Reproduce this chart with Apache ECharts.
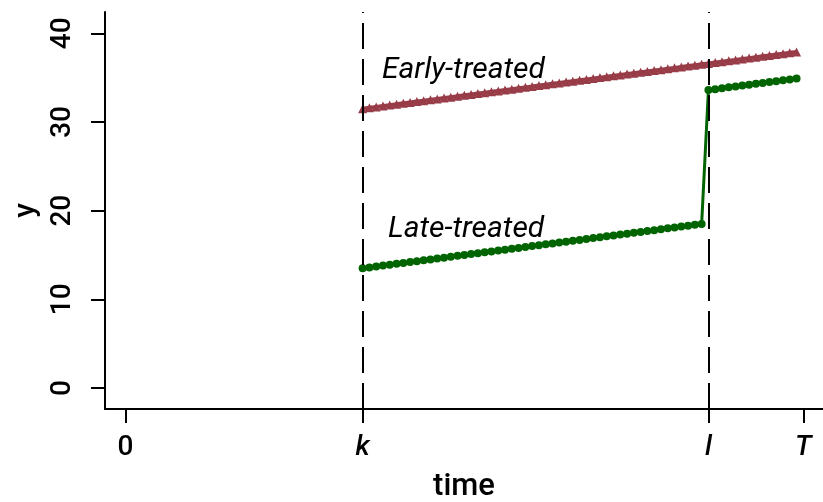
<!DOCTYPE html>
<html><head><meta charset="utf-8"></head>
<body style="margin:0;background:#fff">
<div id="c" style="width:823px;height:502px"></div>
<script src="https://cdn.jsdelivr.net/npm/echarts@6/dist/echarts.min.js"></script>
<script>
// ---- data ----
const timeEarly = [35,36,37,38,39,40,41,42,43,44,45,46,47,48,49,50,51,52,53,54,55,56,57,58,59,60,61,62,63,64,65,66,67,68,69,70,71,72,73,74,75,76,77,78,79,80,81,82,83,84,85,86,87,88,89,90,91,92,93,94,95,96,97,98,99];
const yEarly = [31.5,31.6,31.7,31.8,31.9,32.0,32.1,32.2,32.3,32.4,32.5,32.6,32.7,32.8,32.9,33.0,33.1,33.2,33.3,33.4,33.5,33.6,33.7,33.8,33.9,34.0,34.1,34.2,34.3,34.4,34.5,34.6,34.7,34.8,34.9,35.0,35.1,35.2,35.3,35.4,35.5,35.6,35.7,35.8,35.9,36.0,36.1,36.2,36.3,36.4,36.5,36.6,36.7,36.8,36.9,37.0,37.1,37.2,37.3,37.4,37.5,37.6,37.7,37.8,37.9];
const timeLate = [35,36,37,38,39,40,41,42,43,44,45,46,47,48,49,50,51,52,53,54,55,56,57,58,59,60,61,62,63,64,65,66,67,68,69,70,71,72,73,74,75,76,77,78,79,80,81,82,83,84,85,86,87,88,89,90,91,92,93,94,95,96,97,98,99];
const yLate = [13.5,13.6,13.7,13.8,13.9,14.0,14.1,14.2,14.3,14.4,14.5,14.6,14.7,14.8,14.9,15.0,15.1,15.2,15.3,15.4,15.5,15.6,15.7,15.8,15.9,16.0,16.1,16.2,16.3,16.4,16.5,16.6,16.7,16.8,16.9,17.0,17.1,17.2,17.3,17.4,17.5,17.6,17.7,17.8,17.9,18.0,18.1,18.2,18.3,18.4,18.5,33.6,33.7,33.8,33.9,34.0,34.1,34.2,34.3,34.4,34.5,34.6,34.7,34.8,34.9];
const xTickValues = [0, 35, 86, 100];
const xTickLabels = ['0', 'k', 'l', 'T'];
const yTickValues = [0, 10, 20, 30, 40];
const seriesNames = ['Early-treated', 'Late-treated'];
const treatTimes = [35, 86];

const FONT = "Roboto, 'DejaVu Sans', sans-serif";
const FS = 28;
const chart = echarts.init(document.getElementById('c'));
chart.setOption({
  animation: false,
  backgroundColor: '#fff',
  grid: { left: 105, right: 0, top: 12, bottom: 93, containLabel: false, outerBoundsMode: 'none' },
  xAxis: {
    type: 'value', min: -3, max: 102.9,
    name: 'time', nameLocation: 'middle', nameGap: 63,
    nameTextStyle: { fontFamily: FONT, fontSize: 31, fontWeight: 500, color: '#000' },
    axisLine: { show: true, onZero: false, lineStyle: { color: '#000', width: 2 } },
    axisTick: { show: true, length: 14, lineStyle: { color: '#000', width: 2 }, customValues: xTickValues },
    axisLabel: {
      customValues: xTickValues, margin: 25, fontFamily: FONT, fontSize: FS, fontWeight: 500, color: '#000',
      formatter: v => { const i = xTickValues.indexOf(v); const s = i >= 0 ? xTickLabels[i] : ''; return i === 0 ? s : '{it|' + s + '}'; },
      rich: { it: { fontStyle: 'italic', fontFamily: FONT, fontSize: FS, fontWeight: 500, color: '#000' } }
    },
    splitLine: { show: false }
  },
  yAxis: {
    type: 'value', min: -2.37, max: 42.4,
    name: 'y', nameLocation: 'middle', nameGap: 62, nameRotate: 90,
    nameTextStyle: { fontFamily: FONT, fontSize: 30, fontWeight: 500, color: '#000' },
    axisLine: { show: true, onZero: false, lineStyle: { color: '#000', width: 2 } },
    axisTick: { show: true, length: 14, lineStyle: { color: '#000', width: 2 }, customValues: yTickValues },
    axisLabel: { customValues: yTickValues, rotate: 90, margin: 28, fontFamily: FONT, fontSize: FS, fontWeight: 500, color: '#000' },
    splitLine: { show: false }
  },
  series: [
    {
      name: seriesNames[0], type: 'line',
      data: timeEarly.map((t, i) => [t, yEarly[i]]),
      symbol: 'triangle', symbolSize: 9, showSymbol: true,
      itemStyle: { color: '#983c48' },
      lineStyle: { color: '#983c48', width: 4 },
      markLine: {
        silent: true, symbol: 'none', label: { show: false },
        lineStyle: { color: '#000', type: [26, 10], width: 2 },
        data: treatTimes.map(t => ({ xAxis: t }))
      },
      z: 3
    },
    {
      name: seriesNames[1], type: 'line',
      data: timeLate.map((t, i) => [t, yLate[i]]),
      symbol: 'circle', symbolSize: 8, showSymbol: true,
      itemStyle: { color: '#006400' },
      lineStyle: { color: '#006400', width: 3 },
      z: 3
    }
  ],
  graphic: [
    { type: 'text', left: 382, top: 55, style: { text: seriesNames[0], font: 'italic 400 30px ' + FONT, fill: '#000' } },
    { type: 'text', left: 388, top: 214, style: { text: seriesNames[1], font: 'italic 400 30px ' + FONT, fill: '#000' } }
  ]
});
</script>
</body></html>
